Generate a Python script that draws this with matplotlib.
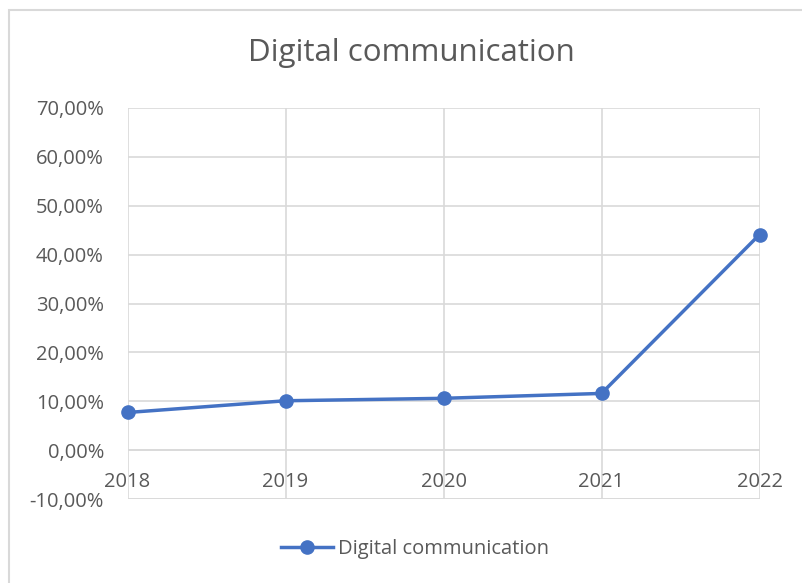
import matplotlib.pyplot as plt
from matplotlib.patches import Rectangle
from matplotlib.lines import Line2D
from matplotlib.ticker import FuncFormatter

plt.rcParams["font.family"] = ["Open Sans", "DejaVu Sans"]

YEARS = ["2018", "2019", "2020", "2021", "2022"]
SHARE = [0.077, 0.101, 0.106, 0.116, 0.441]
SERIES = "Digital communication"

BLUE = "#4472C4"
GRID = "#d9d9d9"
TEXT = "#595959"

W, H = 802, 583
fig = plt.figure(figsize=(W / 100, H / 100), dpi=100)

# chart border (clipped on right and bottom)
fig.patches.append(Rectangle((8.5 / W, -0.05), 1.0, 1 - 9.5 / H + 0.05,
                             transform=fig.transFigure, fill=False,
                             edgecolor=GRID, linewidth=1.5))

left, right, top, bottom = 127.5, 759.5, 108, 499
ax = fig.add_axes([left / W, 1 - bottom / H, (right - left) / W, (bottom - top) / H])

x = range(len(YEARS))
ax.plot(x, SHARE, color=BLUE, linewidth=2.5, marker="o", markersize=9.5, zorder=3,
        clip_on=False)

ax.set_xlim(0, len(YEARS) - 1)
ax.set_ylim(-0.10, 0.70)
ax.set_yticks([i / 10 for i in range(-1, 8)])
ax.yaxis.set_major_formatter(FuncFormatter(lambda v, _: f"{v * 100:.2f}%".replace(".", ",")))
ax.tick_params(axis="y", length=0, labelsize=14.5, labelcolor=TEXT, pad=17)
ax.set_xticks(list(x))
ax.set_xticklabels([])
ax.tick_params(axis="x", length=0)
ax.grid(True, color=GRID, linewidth=1.2)
ax.set_axisbelow(True)
for s in ax.spines.values():
    s.set_visible(False)
ax.axhline(0, color=GRID, linewidth=1.2, zorder=1)
ax.axhline(-0.10, color=GRID, linewidth=1.2, zorder=1)

# category labels sit just under the zero line
for i, yr in enumerate(YEARS):
    ax.text(i, -0.066, yr, ha="center", va="center", fontsize=14.5, color=TEXT)

fig.text(411 / W, 1 - 53 / H, SERIES, ha="center", va="center", fontsize=22.5, color=TEXT)

handle = Line2D([], [], color=BLUE, linewidth=2.5, marker="o", markersize=9.5)
fig.legend([handle], [SERIES], loc="center", bbox_to_anchor=(415 / W, 1 - 549 / H),
           frameon=False, fontsize=14.5, labelcolor=TEXT, handlelength=2.6,
           handletextpad=0.25)

fig.savefig("out.png", dpi=100)
